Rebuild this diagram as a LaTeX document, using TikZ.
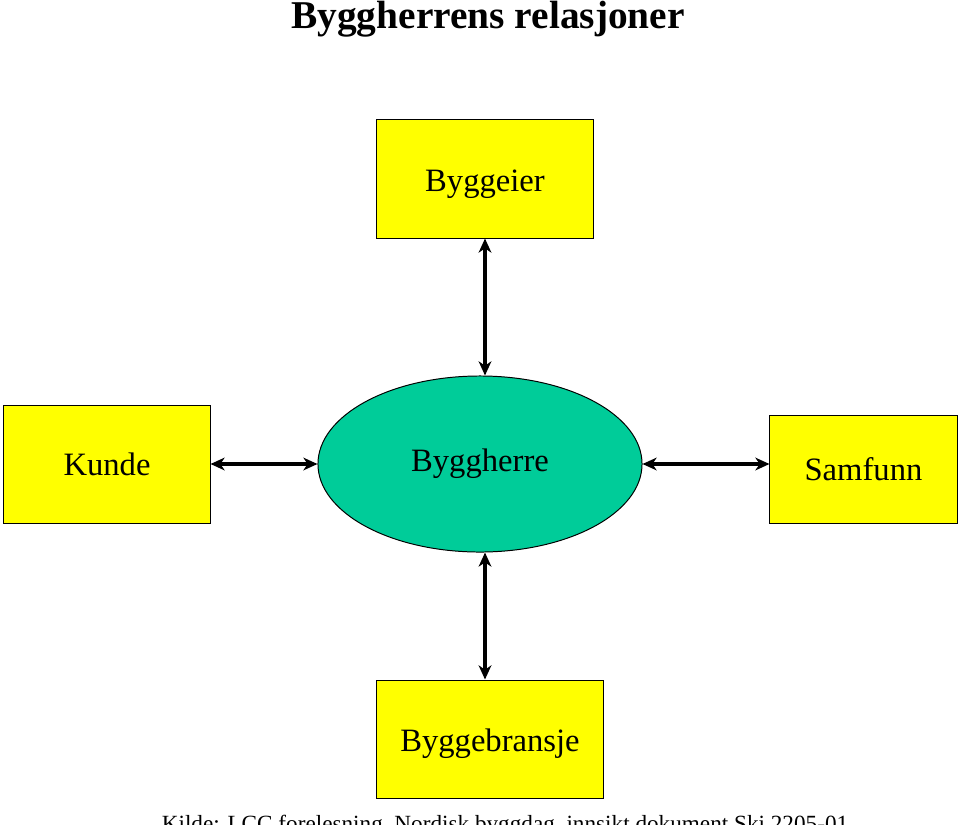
\documentclass[tikz,border=0pt]{standalone}
\usepackage{fontspec}
\setmainfont{Liberation Serif}
\usetikzlibrary{shapes.geometric,arrows.meta}
\definecolor{gul}{RGB}{255,255,0}
\definecolor{groenn}{RGB}{0,204,153}
\newcommand{\senk}[1]{\raisebox{-3.5pt}[\height][\depth]{#1}}
\tikzset{
  boks/.style={draw, line width=0.7pt, fill=gul, inner sep=0pt, font=\fontsize{23.2}{26}\selectfont},
  pil/.style={line width=2.2pt, {Stealth[length=10pt,width=9pt,inset=3pt]}-{Stealth[length=10pt,width=9pt,inset=3pt]}}
}
\begin{document}
\begin{tikzpicture}[x=0.025cm, y=-0.025cm]
\useasboundingbox (0,0) rectangle (960,824);
\clip (0,0) rectangle (960,824);
\node [anchor=base, font=\bfseries\fontsize{28}{32}\selectfont] (tittel) at (488,28) {Byggherrens relasjoner};

\node [boks, minimum width=5.4cm, minimum height=2.95cm] (byggeier) at (485,179) {\senk{Byggeier}};
\node [boks, minimum width=5.15cm, minimum height=2.95cm] (kunde) at (107,464) {Kunde};
\node [boks, minimum width=4.675cm, minimum height=2.7cm] (samfunn) at (863.5,469) {Samfunn};
\node [boks, minimum width=5.65cm, minimum height=2.95cm] (bransje) at (490,739) {\senk{Byggebransje}};
\node [ellipse, draw, line width=0.7pt, fill=groenn, inner sep=0pt, minimum width=8.1cm, minimum height=4.4cm, font=\fontsize{23.2}{26}\selectfont] (herre) at (480,464) {Byggherre};

\draw [pil] (byggeier.south) -- (byggeier.south |- herre.north);
\draw [pil] (byggeier.south |- herre.south) -- (byggeier.south |- bransje.north);
\draw [pil] (kunde.east |- herre.west) -- (herre.west);
\draw [pil] (herre.east) -- (samfunn.west |- herre.east);

\node [anchor=base, font=\fontsize{16.5}{18}\selectfont] (kilde) at (505,831) {Kilde: LCC forelesning, Nordisk byggdag, innsikt dokument Ski 2205-01};
\end{tikzpicture}
\end{document}
